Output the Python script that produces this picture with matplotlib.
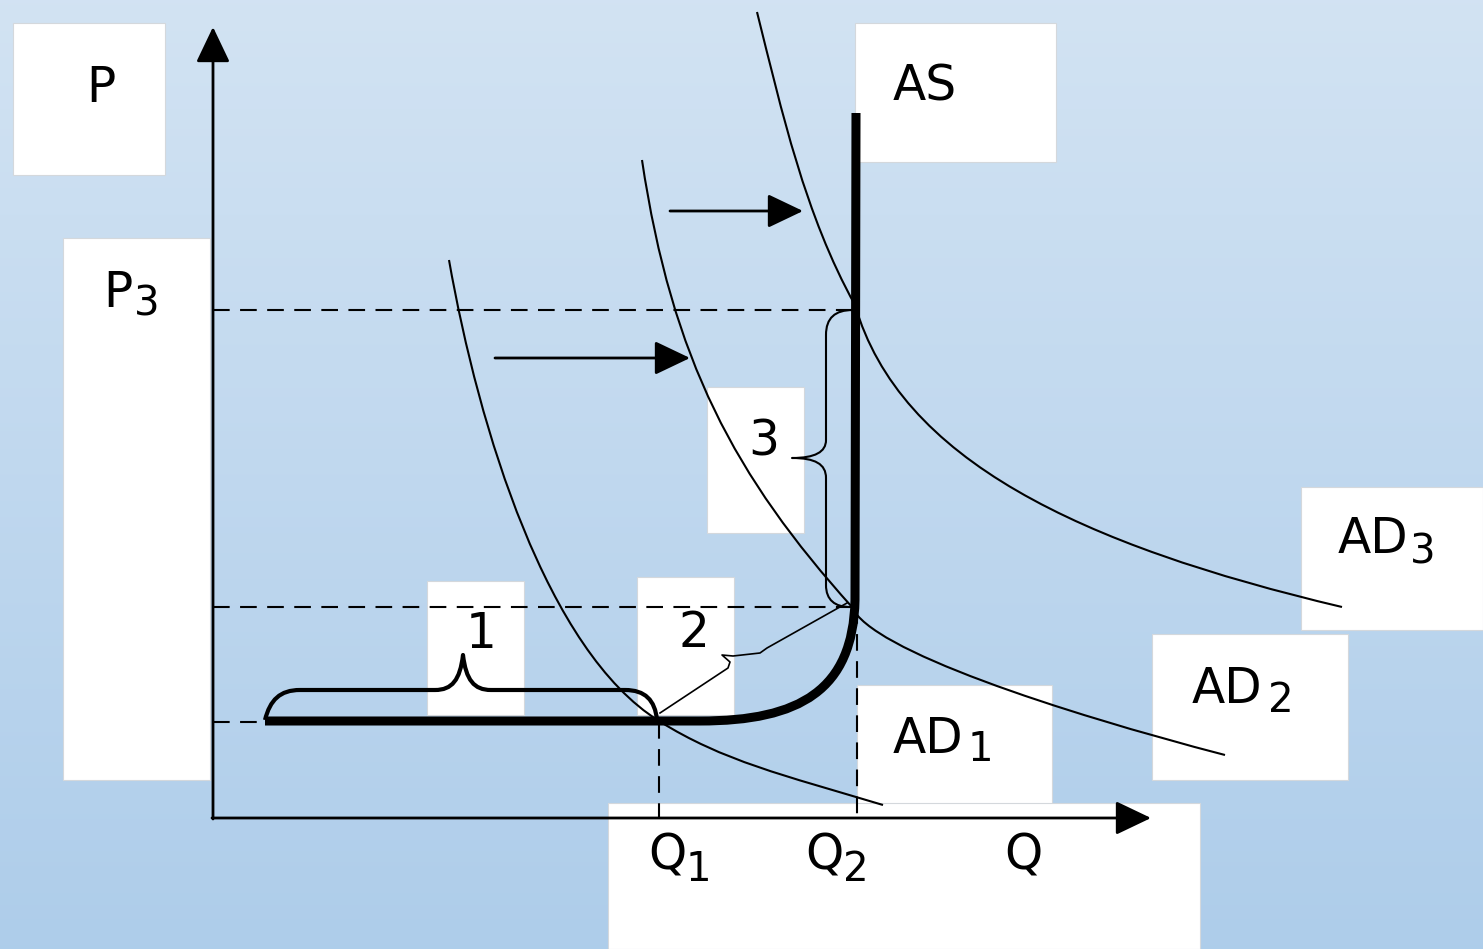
import numpy as np
import matplotlib
matplotlib.use('Agg')
import matplotlib.pyplot as plt
import matplotlib.patches as mpatches
from matplotlib.path import Path

W, H = 1483, 949

# cadres blancs (x0, y0, x1, y1) en pixels
boites = [(13, 23, 165, 175), (63, 238, 210, 780), (855, 23, 1056, 162),
          (707, 387, 804, 533), (427, 581, 524, 715), (637, 577, 734, 715),
          (857, 685, 1052, 810), (1152, 634, 1348, 780), (1301, 487, 1483, 630),
          (608, 803, 1200, 949)]

# textes : (texte, x, ligne de base)
textes = [("P", 86, 102), ("P", 103, 307), ("AS", 893, 100), ("3", 748, 455),
          ("1", 466, 648), ("2", 678, 647), ("AD", 893, 753), ("AD", 1192, 703),
          ("AD", 1338, 553), ("Q", 648, 870), ("Q", 805, 870), ("Q", 1004, 870)]
indices = [("3", 134, 315), ("1", 968, 761), ("2", 1268, 712), ("3", 1410, 563),
           ("1", 686, 881), ("2", 843, 881)]

M, C, L = Path.MOVETO, Path.CURVE4, Path.LINETO

ad1 = [(449, 260), (479, 430), (547, 651), (659, 721), (723, 761), (783, 775), (883, 805)]
ad2 = [(642, 160), (672, 360), (735, 477), (852, 607), (870, 650), (1060, 712), (1225, 755)]
ad3 = [(757, 12), (782, 112), (805, 215), (855, 305), (900, 460), (1080, 545), (1342, 607)]
code_ad = [M, C, C, C, C, C, C]

offre = [(265, 721), (700, 721), (800, 721), (853, 690), (855, 600), (856, 113)]
code_offre = [M, L, C, C, C, L]

accolade1 = [(265, 720), (270, 700), (280, 690), (300, 690), (435, 690), (452, 690),
             (460, 680), (463, 655), (466, 680), (474, 690), (491, 690), (625, 690),
             (645, 690), (655, 700), (657, 720)]
accolade3 = [(853, 310), (835, 310), (826, 318), (826, 335), (826, 440), (826, 452),
             (815, 458), (792, 458), (815, 458), (826, 464), (826, 478), (826, 585),
             (826, 600), (835, 607), (850, 607)]
code_acc = [M, C, C, C, L, C, C, C, C, C, C, L, C, C, C]
accolade2 = [(660, 713), (728, 668), (730, 662), (722, 655), (733, 656), (760, 653),
             (767, 648), (847, 603)]

tirets_h = [(310, 213, 855), (607, 213, 855), (722, 213, 265)]
tirets_v = [(659, 722, 818), (857, 607, 818)]

fleches = [((495, 358), (690, 358)), ((670, 211), (803, 211))]

fig = plt.figure(figsize=(W / 100, H / 100), dpi=100)
ax = fig.add_axes([0, 0, 1, 1])

haut = np.array([0.824, 0.890, 0.953])
bas = np.array([0.682, 0.804, 0.918])
t = np.linspace(0, 1, 256)[:, None, None]
fond = haut * (1 - t) + bas * t
ax.imshow(fond, extent=[0, W, H, 0], aspect='auto', zorder=0, interpolation='bilinear')
ax.set_xlim(0, W)
ax.set_ylim(H, 0)
ax.axis('off')

for x0, y0, x1, y1 in boites:
    ax.add_patch(mpatches.Rectangle((x0, y0), x1 - x0, y1 - y0, facecolor='white',
                                    edgecolor='#d4d8dc', lw=0.8, zorder=1))


def trace(pts, codes, lw):
    p = Path(pts, codes)
    ax.add_patch(mpatches.PathPatch(p, facecolor='none', edgecolor='black', lw=lw,
                                    capstyle='butt', joinstyle='round', zorder=3))


for courbe in (ad1, ad2, ad3):
    trace(courbe, code_ad, 1.5)
trace(offre, code_offre, 6.5)
trace(accolade1, code_acc, 3)
trace(accolade3, code_acc, 1.5)
ax.plot(*zip(*accolade2), color='black', lw=1.2, zorder=3)

for y, xa, xb in tirets_h:
    ax.plot([xa, xb], [y, y], color='black', lw=1.5, dashes=(8, 5), zorder=2)
for x, ya, yb in tirets_v:
    ax.plot([x, x], [ya, yb], color='black', lw=1.5, dashes=(8, 5), zorder=2)

style = dict(arrowstyle='-|>,head_length=2.2,head_width=1.05', color='black', lw=2,
             shrinkA=0, shrinkB=0)
ax.annotate('', xy=(213, 27), xytext=(213, 819), arrowprops=style, zorder=4)
ax.annotate('', xy=(1151, 818), xytext=(212, 818), arrowprops=style, zorder=4)
for debut, fin in fleches:
    ax.annotate('', xy=fin, xytext=debut, arrowprops=style, zorder=4)

for s, x, y in textes:
    ax.text(x, y, s, fontsize=35, family='DejaVu Sans', va='baseline', ha='left', zorder=5)
for s, x, y in indices:
    ax.text(x, y, s, fontsize=29, family='DejaVu Sans', va='baseline', ha='left', zorder=5)

fig.savefig('out.png', dpi=100)
